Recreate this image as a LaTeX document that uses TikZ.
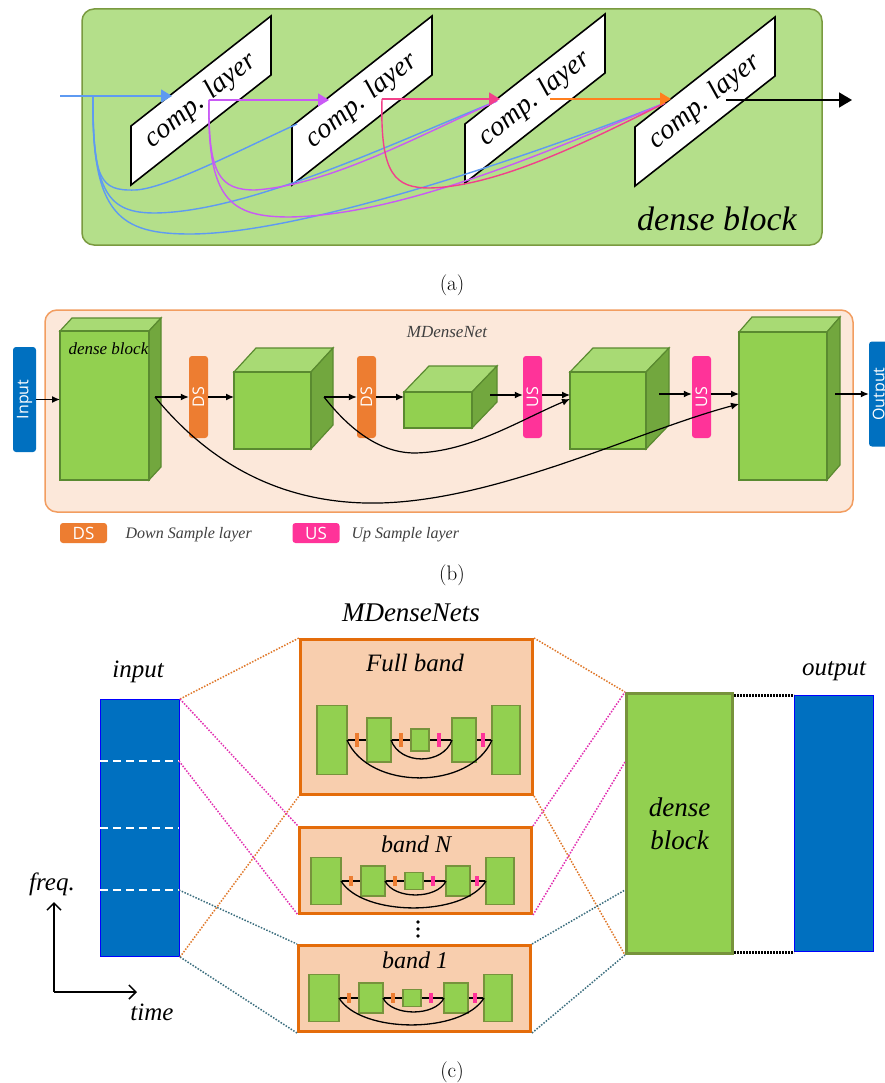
\documentclass[tikz,border=0pt]{standalone}
\usepackage{fontspec}
\newfontfamily\tms{Liberation Serif}
\newfontfamily\osans{Open Sans}
\usetikzlibrary{arrows.meta,calc}
\definecolor{agreen}{HTML}{B4DF8A}
\definecolor{agreenb}{HTML}{7A9A40}
\definecolor{cblue}{HTML}{5E9AF2}
\definecolor{cmag}{HTML}{C95AF5}
\definecolor{cpink}{HTML}{F2408A}
\definecolor{corange}{HTML}{FF7F1E}
\definecolor{bfill}{HTML}{FCE8DA}
\definecolor{bborder}{HTML}{F29D60}
\definecolor{cfront}{HTML}{92D050}
\definecolor{ctop}{HTML}{A8DA74}
\definecolor{cside}{HTML}{72A73E}
\definecolor{cline}{HTML}{5A8A30}
\definecolor{dsorange}{HTML}{ED7D31}
\definecolor{uspink}{HTML}{FF3399}
\definecolor{inblue}{HTML}{0070C0}
\definecolor{pfill}{HTML}{F8CEAE}
\definecolor{pborder}{HTML}{E46C0A}
\definecolor{gborder}{HTML}{77933C}
\definecolor{dotorange}{HTML}{E0782A}
\definecolor{dotpink}{HTML}{E22FB0}
\definecolor{dotteal}{HTML}{3B6E7E}
\definecolor{txtgray}{HTML}{404040}

\tikzset{
  ti/.style={font=\tms\itshape\fontsize{#1}{#1}\selectfont},
  cw/.style={line width=1.4},
  atip/.style={-{Triangle[length=11pt,width=13pt]}},
  barrow/.style={line width=1.2,-{Latex[length=8pt,width=7pt]}},
  cubeline/.style={draw=cline,line width=1.2},
  dsbox/.style={fill=dsorange,rounded corners=3,minimum width=19,minimum height=82,inner sep=0,text=white,font=\osans\fontsize{16}{16}\selectfont},
  usbox/.style={dsbox,fill=uspink},
  legbox/.style={rounded corners=3,minimum width=47,minimum height=20,inner sep=0,text=white,font=\osans\fontsize{17}{17}\selectfont},
  bluebox/.style={fill=inblue,rounded corners=3,minimum width=23,minimum height=105,inner sep=0,text=white,font=\osans\fontsize{16}{16}\selectfont},
  mrect/.style={fill=cfront,draw=gborder,line width=1.5},
  bandbox/.style={fill=pfill,draw=pborder,line width=3,inner sep=0,anchor=north west},
  otick/.style={draw=dsorange,line width=3.5},
  ptick/.style={draw=uspink,line width=3.5},
  dotline/.style={line width=1.5,dash pattern=on 1.5pt off 1.5pt},
  caption/.style={font=\fontsize{21}{21}\selectfont,anchor=base},
}

\newcommand\complayer[3]{%
  \draw[line width=1.6,fill=white] (#2,#3) -- ++(140,-110) -- ++(0,59) -- ++(-140,110) -- cycle;
  \node[rotate=39,ti=28] (#1) at (#2+70,#3-25.5) {comp. layer};
}
\newcommand\gcube[7]{%
  \filldraw[cubeline,fill=ctop] (#2,#3) -- (#2+#6,#3-#7) -- (#4+#6,#3-#7) -- (#4,#3) -- cycle;
  \filldraw[cubeline,fill=cside] (#4,#3) -- (#4+#6,#3-#7) -- (#4+#6,#5-#7) -- (#4,#5) -- cycle;
  \node[cubeline,fill=cfront,anchor=north west,inner sep=0,outer sep=0,minimum width=#4-#2,minimum height=#5-#3] (#1) at (#2,#3) {};
}
\newcommand\miniunet[8]{%
  \draw[line width=1.2] (#1+30,#2) -- (#1+175,#2);
  \draw[mrect] (#1,#2-#3) rectangle (#1+30,#2+#3);
  \draw[mrect] (#1+50,#2-#4) rectangle (#1+74,#2+#4);
  \draw[mrect] (#1+94,#2-#5) rectangle (#1+112,#2+#5);
  \draw[mrect] (#1+135,#2-#4) rectangle (#1+159,#2+#4);
  \draw[mrect] (#1+175,#2-#3) rectangle (#1+203,#2+#3);
  \draw[line width=1.3] (#1+30,#2) .. controls (#1+52,#2+1.33*#6) and (#1+153,#2+1.33*#6) .. (#1+175,#2);
  \draw[line width=1.3] (#1+74,#2) .. controls (#1+83,#2+1.33*#7) and (#1+126,#2+1.33*#7) .. (#1+135,#2);
  \draw[otick] (#1+40,#2-#8) -- (#1+40,#2+#8);
  \draw[otick] (#1+84,#2-#8) -- (#1+84,#2+#8);
  \draw[ptick] (#1+122,#2-#8) -- (#1+122,#2+#8);
  \draw[ptick] (#1+166,#2-#8) -- (#1+166,#2+#8);
}

\begin{document}
\begin{tikzpicture}[x=1pt,y=-1pt]
\useasboundingbox (0,0) rectangle (884,1083);
\fill[white] (0,0) rectangle (884,1083);

% ---------------- panel (a)
\draw[fill=agreen,draw=agreenb,line width=1.5,rounded corners=12] (82,9) rectangle (822,245);
\complayer{L1}{131}{126}
\complayer{L2}{292}{126}
\complayer{L3}{465}{124}
\complayer{L4}{635}{127}
\node[ti=34,anchor=base] (dbA) at (717,230) {dense block};

\coordinate (ain) at (60,96);
\coordinate (b0) at (93,96);
\coordinate (t1) at (172,96);
\coordinate (m0) at (209,100);
\coordinate (t2) at (329,100);
\coordinate (p0) at (382,99);
\coordinate (t3) at (500,99);
\coordinate (o0) at (550,99);
\coordinate (t4) at (671,99);
\coordinate (k0) at (726,100);
\coordinate (aout) at (852,100);
\coordinate (e2) at (297,124);
\coordinate (e3) at (497,101);
\coordinate (e4) at (665,103);

\draw[cblue,cw] (b0) .. controls (93,180) and (100,191) .. (135,190) .. controls (165,189) and (240,150) .. (e2);
\draw[cblue,cw] (b0) .. controls (92,195) and (110,213) .. (155,213) .. controls (250,212) and (400,140) .. (e3);
\draw[cblue,cw] (b0) .. controls (91,215) and (120,234) .. (190,234) .. controls (300,234) and (520,160) .. (e4);
\draw[cmag,cw] (m0) .. controls (208,175) and (220,190) .. (255,190) .. controls (330,185) and (420,135) .. (e3);
\draw[cmag,cw] (m0) .. controls (207,200) and (230,217) .. (290,217) .. controls (400,215) and (540,155) .. (e4);
\draw[cpink,cw] (p0) .. controls (380,175) and (395,188) .. (430,188) .. controls (500,186) and (590,140) .. (e4);

\draw[cblue,line width=1.5,atip] (ain) -- (t1);
\draw[cmag,line width=1.5,atip] (m0) -- (t2);
\draw[cpink,line width=1.5,atip] (p0) -- (t3);
\draw[corange,line width=1.5,atip] (o0) -- (t4);
\draw[black,line width=1.5,-{Triangle[length=13pt,width=15pt]}] (k0) -- (aout);

\node[caption] (capa) at (452,290) {(a)};

% ---------------- panel (b)
\draw[fill=bfill,draw=bborder,line width=1.5,rounded corners=12] (45,310) rectangle (853,512);
\node[ti=17,text=txtgray,anchor=base] (mdn) at (447,337) {MDenseNet};

\gcube{c1}{60}{331}{149}{480}{12}{13}
\gcube{c2}{234}{372}{311}{449}{22}{24}
\gcube{c3}{404}{392}{472}{428}{25}{26}
\gcube{c4}{570}{372}{646}{449}{23}{24}
\gcube{c5}{739}{332}{827}{480}{13}{15}
\node[ti=17,anchor=base west] (dbB) at (65,354) {dense block};

\node[bluebox] (inp) at (24.5,399.5) {\rotatebox{90}{Input}};
\node[bluebox] (outp) at (880.5,394) {\rotatebox{90}{Output}};
\node[dsbox] (ds1) at (198.5,397) {\rotatebox{90}{DS}};
\node[dsbox] (ds2) at (366.5,397) {\rotatebox{90}{DS}};
\node[usbox] (us1) at (532.5,397) {\rotatebox{90}{US}};
\node[usbox] (us2) at (701.5,397) {\rotatebox{90}{US}};

\coordinate (c1o) at (155,397);
\coordinate (c2o) at (324,397);
\coordinate (c3o) at (490,395);
\coordinate (c4o) at (659,394);
\coordinate (c5o) at (835,394);
\coordinate (c4i) at (570,399);
\coordinate (c5i) at (739,404);

\draw[barrow] (inp.east) -- (c1.west |- inp.east);
\draw[barrow] (c1o) -- (ds1.west |- c1o);
\draw[barrow] (ds1.east |- c1o) -- (c2.west |- c1o);
\draw[barrow] (c2o) -- (ds2.west |- c2o);
\draw[barrow] (ds2.east |- c2o) -- (c3.west |- c2o);
\draw[barrow] (c3o) -- (us1.west |- c3o);
\draw[barrow] (us1.east |- c3o) -- (c4.west |- c3o);
\draw[barrow] (c4o) -- (us2.west |- c4o);
\draw[barrow] (us2.east |- c4o) -- (c5.west |- c4o);
\draw[barrow] (c5o) -- (outp.west |- c5o);
\draw[barrow] (c1o) .. controls (215,470) and (290,505) .. (380,503) .. controls (500,500) and (640,430) .. (c5i);
\draw[barrow] (c2o) .. controls (350,430) and (380,453) .. (415,453) .. controls (470,452) and (520,420) .. (c4i);

\node[legbox,fill=dsorange] (lds) at (83.5,533) {DS};
\node[ti=16,text=txtgray,anchor=base west] (ldst) at (122,538) {Down Sample layer};
\node[legbox,fill=uspink] (lus) at (316,533) {US};
\node[ti=16,text=txtgray,anchor=base west] (lust) at (348,538) {Up Sample layer};

\node[caption] (capb) at (452,580) {(b)};

% ---------------- panel (c)
\node[ti=27,anchor=base] (mdns) at (411,621) {MDenseNets};
\node[ti=25,anchor=base] (tin) at (138,677) {input};
\node[ti=25,anchor=base] (tout) at (834,675) {output};

\node[fill=inblue,draw=blue,line width=1,inner sep=0,anchor=north west,minimum width=79,minimum height=257] (inr) at (100,699) {};
\coordinate (d1L) at (100,761); \coordinate (d1R) at (179,761);
\coordinate (d2L) at (100,828); \coordinate (d2R) at (179,828);
\coordinate (d3L) at (100,890); \coordinate (d3R) at (179,890);
\draw[white,line width=2,dash pattern=on 8pt off 5pt] (d1L) -- (d1R);
\draw[white,line width=2,dash pattern=on 8pt off 5pt] (d2L) -- (d2R);
\draw[white,line width=2,dash pattern=on 8pt off 5pt] (d3L) -- (d3R);

\coordinate (ax) at (54,992);
\coordinate (axu) at (54,902);
\coordinate (axr) at (137,992);
\draw[line width=1.5,-{Straight Barb[length=7pt,width=14pt]}] (ax) -- (axu);
\draw[line width=1.5,-{Straight Barb[length=7pt,width=14pt]}] (ax) -- (axr);
\node[ti=25,anchor=base] (tfreq) at (52,890) {freq.};
\node[ti=25,anchor=base] (ttime) at (152,1020) {time};

\node[bandbox,minimum width=232,minimum height=155] (full) at (299,638) {};
\node[bandbox,minimum width=232,minimum height=86] (bandN) at (298,826) {};
\node[bandbox,minimum width=232,minimum height=86] (band1) at (297,944) {};
\node[ti=25,anchor=base] (tfull) at (415,671) {Full band};
\node[ti=24,anchor=base] (tbN) at (416,852) {band N};
\node[ti=24,anchor=base] (tb1) at (415,968) {band 1};
\miniunet{317}{740}{34.5}{22}{11}{38}{19}{7}
\miniunet{311}{881}{23.5}{15}{8.5}{27}{14}{5}
\miniunet{309}{998}{23.5}{15}{8.5}{27}{14}{5}
\fill (418,922) circle (1.8) (418,929) circle (1.8) (418,936) circle (1.8);

\node[fill=cfront,draw=gborder,line width=3,inner sep=0,anchor=north west,minimum width=106,minimum height=260,align=center,font=\tms\itshape\fontsize{27}{33}\selectfont] (dense) at (625,692) {dense\\block};
\node[fill=inblue,draw=blue,line width=1,inner sep=0,anchor=north west,minimum width=79,minimum height=256] (outr) at (794,695) {};
\draw[line width=3,dash pattern=on 2pt off 1pt] (dense.east |- outr.north) -- (outr.north west);
\draw[line width=3,dash pattern=on 2pt off 1pt] (dense.east |- outr.south) -- (outr.south west);

\coordinate (dk1) at (625,762);
\coordinate (dk2) at (625,890);
\draw[dotline,dotorange] (inr.north east) -- (full.north west);
\draw[dotline,dotorange] (inr.south east) -- (full.south west);
\draw[dotline,dotpink] (inr.north east) -- (bandN.north west);
\draw[dotline,dotpink] (d1R) -- (bandN.south west);
\draw[dotline,dotteal] (d3R) -- (band1.north west);
\draw[dotline,dotteal] (inr.south east) -- (band1.south west);
\draw[dotline,dotorange] (full.north east) -- (dense.north west);
\draw[dotline,dotorange] (full.south east) -- (dense.south west);
\draw[dotline,dotpink] (bandN.north east) -- (dense.north west);
\draw[dotline,dotpink] (bandN.south east) -- (dk1);
\draw[dotline,dotteal] (band1.north east) -- (dk2);
\draw[dotline,dotteal] (band1.south east) -- (dense.south west);

\node[caption] (capc) at (452,1077) {(c)};
\end{tikzpicture}
\end{document}
